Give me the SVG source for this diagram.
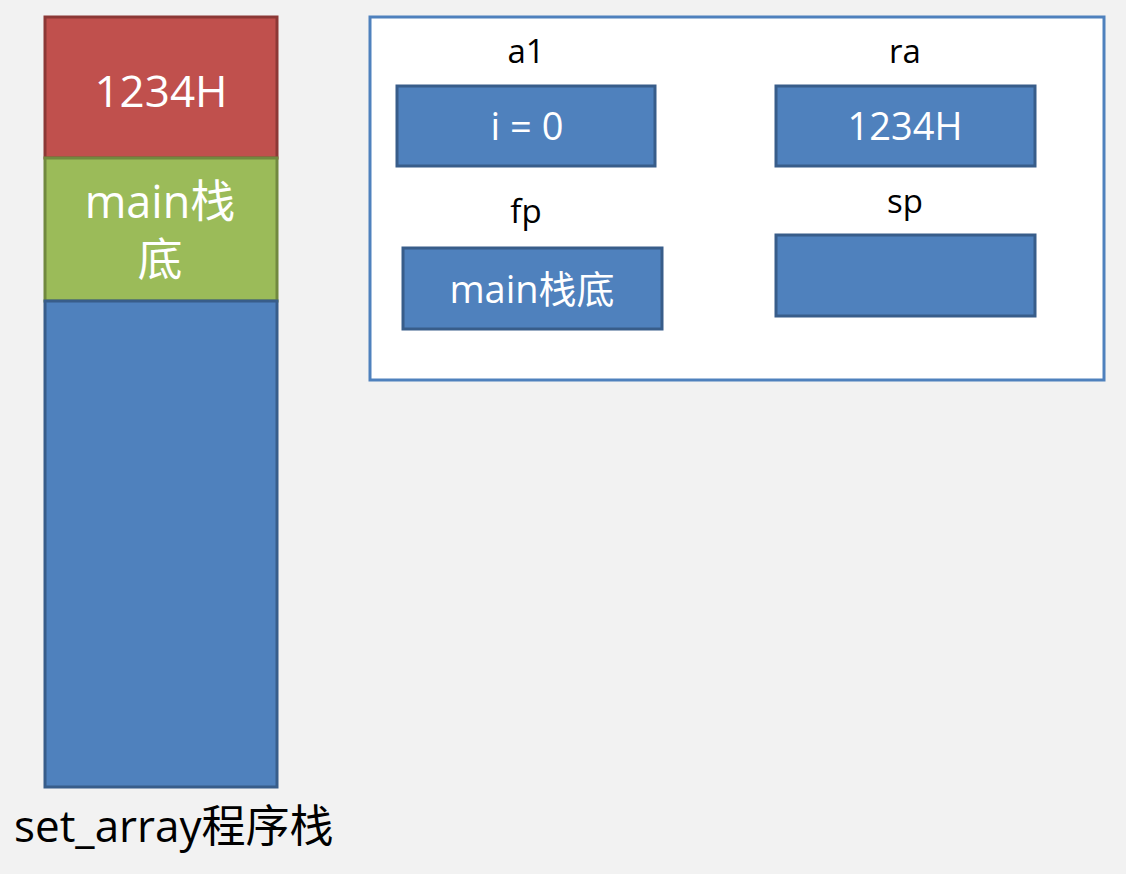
<svg xmlns="http://www.w3.org/2000/svg" width="1126" height="874" viewBox="0 0 1126 874">
<style>
.t{font-family:"Open Sans","Noto Sans CJK SC",sans-serif;}
.w{fill:#ffffff;}
.k{fill:#000000;}
.blue{fill:#4F81BD;stroke:#385D8A;stroke-width:3;}
</style>
<rect width="1126" height="874" fill="#F2F2F2"/>
<g id="stack">
<rect x="45" y="17" width="232" height="141" fill="#C0504D" stroke="#8C3836" stroke-width="3"/>
<rect x="45" y="158" width="232" height="143" fill="#9BBB59" stroke="#71893F" stroke-width="3"/>
<rect x="45" y="301" width="232" height="486" class="blue"/>
<text class="t w" x="161" y="107" font-size="44" text-anchor="middle">1234H</text>
<text class="t w" x="160" y="218" font-size="45" text-anchor="middle">main栈</text>
<text class="t w" x="160" y="276" font-size="45" text-anchor="middle">底</text>
</g>
<g id="stack-label">
<text class="t k" x="14" y="842" font-size="44">set_array程序栈</text>
</g>
<g id="registers">
<rect x="370" y="17" width="734" height="363" fill="#ffffff" stroke="#4F81BD" stroke-width="3"/>
</g>
<g id="a1">
<text class="t k" x="526" y="63" font-size="33" text-anchor="middle">a1</text>
<rect x="397" y="86" width="258" height="80" class="blue"/>
<text class="t w" x="527" y="140" font-size="38" text-anchor="middle">i = 0</text>
</g>
<g id="ra">
<text class="t k" x="905" y="63" font-size="33" text-anchor="middle">ra</text>
<rect x="776" y="86" width="259" height="80" class="blue"/>
<text class="t w" x="905" y="140" font-size="38" text-anchor="middle">1234H</text>
</g>
<g id="fp">
<text class="t k" x="526" y="223" font-size="33" text-anchor="middle">fp</text>
<rect x="403" y="248" width="259" height="81" class="blue"/>
<text class="t w" x="532" y="303" font-size="38" text-anchor="middle">main栈底</text>
</g>
<g id="sp">
<text class="t k" x="905" y="213" font-size="33" text-anchor="middle">sp</text>
<rect x="776" y="235" width="259" height="81" class="blue"/>
</g>
<g id="connectors"></g>
</svg>
